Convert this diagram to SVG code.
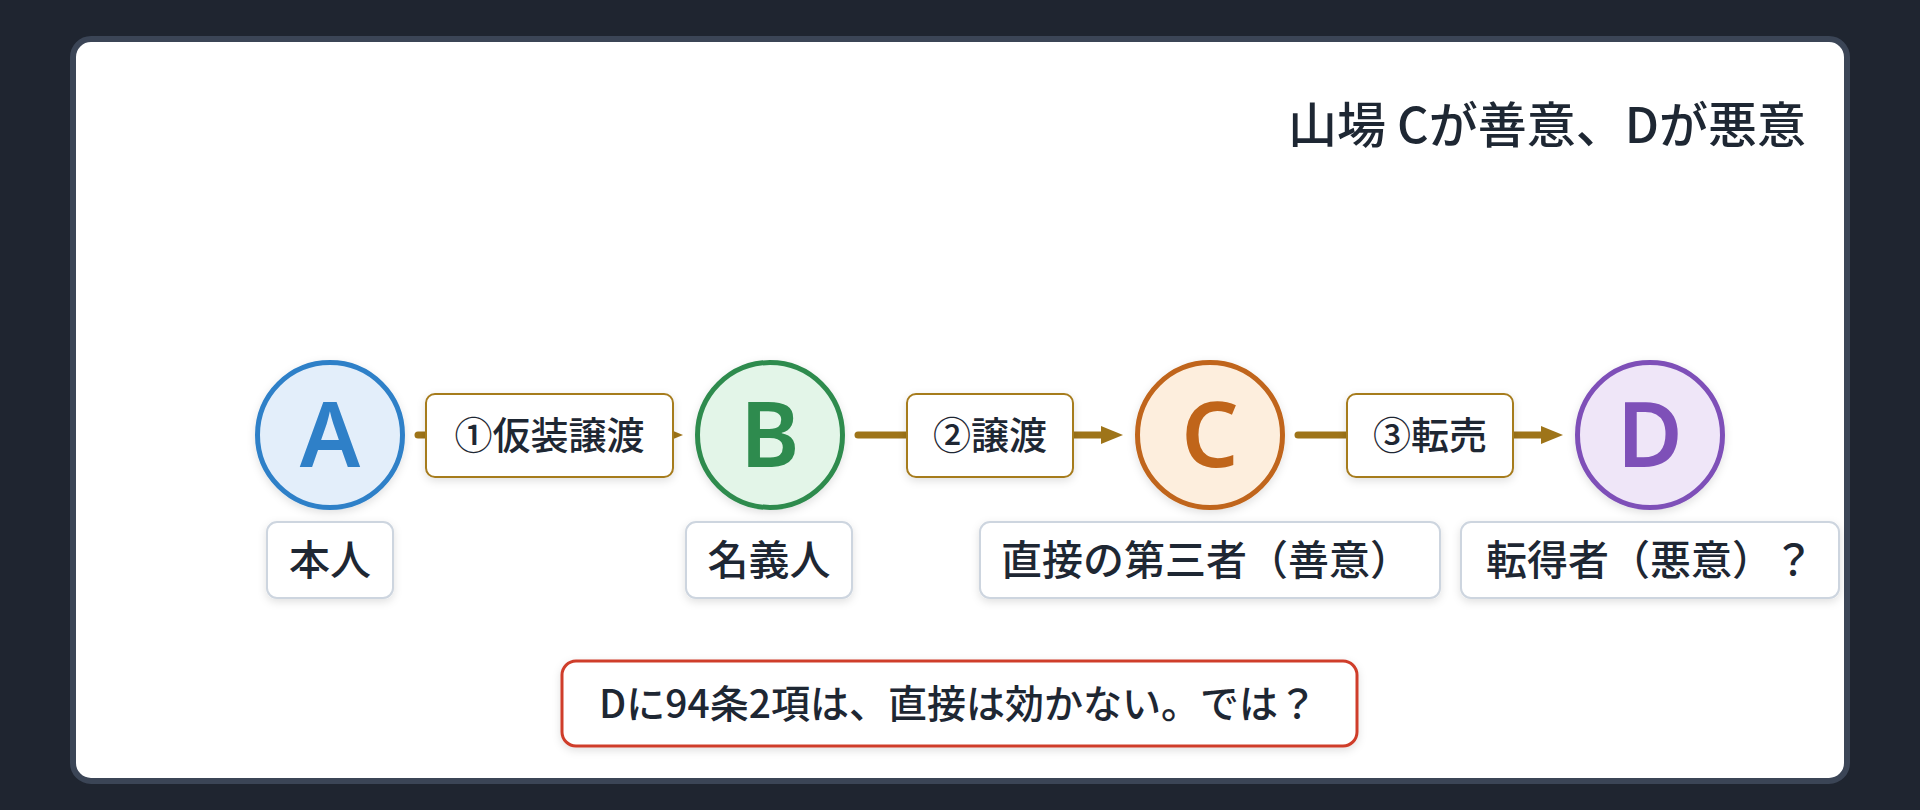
<svg xmlns="http://www.w3.org/2000/svg" width="1920" height="810" viewBox="0 0 1920 810">
<style>
.jp{font-family:"Noto Sans CJK JP","Noto Sans",sans-serif;fill:#1e2733}
.title{font-size:49px;font-weight:500}
.elab{font-size:38px;font-weight:500}
.sub{font-size:41px;font-weight:500}
.note{font-size:39px;font-weight:500}
.letter{font-family:"Noto Sans","Open Sans",sans-serif;font-size:90px;font-weight:600;text-anchor:middle}
.conn{stroke:#9e7419;stroke-width:7;stroke-linecap:round;fill:none}
.ebox{fill:#ffffff;stroke:#a67b1f;stroke-width:2}
.sbox{fill:#ffffff;stroke:#cdd5df;stroke-width:2}
</style>
<defs>
<marker id="arr" markerUnits="userSpaceOnUse" markerWidth="22" markerHeight="20" viewBox="0 0 22 20" refX="2" refY="10" orient="auto">
<path d="M0,1 L22,10 L0,19 z" fill="#9e7419"/>
</marker>
<filter id="sh" x="-20%" y="-20%" width="140%" height="150%">
<feDropShadow dx="0" dy="3" stdDeviation="4" flood-color="#000" flood-opacity="0.12"/>
</filter>
</defs>
<rect x="0" y="0" width="1920" height="810" fill="#1f2530"/>
<rect x="73" y="39" width="1774" height="742" rx="18" fill="#ffffff" stroke="#3b4556" stroke-width="6"/>
<text class="jp title" x="1806" y="143" text-anchor="end">山場 Cが善意、Dが悪意</text>
<g id="connectors">
<line class="conn" x1="418" y1="435" x2="663" y2="435" marker-end="url(#arr)"/>
<line class="conn" x1="858" y1="435" x2="1103" y2="435" marker-end="url(#arr)"/>
<line class="conn" x1="1298" y1="435" x2="1543" y2="435" marker-end="url(#arr)"/>
<g id="edge-label-1"><rect class="ebox" x="426" y="394" width="247" height="83" rx="9" filter="url(#sh)"/><text class="jp elab" x="549.5" y="449" text-anchor="middle">①仮装譲渡</text></g>
<g id="edge-label-2"><rect class="ebox" x="907" y="394" width="166" height="83" rx="9" filter="url(#sh)"/><text class="jp elab" x="990" y="449" text-anchor="middle">②譲渡</text></g>
<g id="edge-label-3"><rect class="ebox" x="1347" y="394" width="166" height="83" rx="9" filter="url(#sh)"/><text class="jp elab" x="1430" y="449" text-anchor="middle">③転売</text></g>
</g>
<g id="node-A">
<circle cx="330" cy="435" r="72.5" fill="#e3eefa" stroke="#2f80c8" stroke-width="5" filter="url(#sh)"/>
<text class="letter" x="330" y="467" fill="#2f80c8">A</text>
<rect class="sbox" x="267" y="522" width="126" height="76" rx="10" filter="url(#sh)"/>
<text class="jp sub" x="330" y="575" text-anchor="middle">本人</text>
</g>
<g id="node-B">
<circle cx="770" cy="435" r="72.5" fill="#e3f5e8" stroke="#2e8b4e" stroke-width="5" filter="url(#sh)"/>
<text class="letter" x="770" y="467" fill="#2e8b4e">B</text>
<rect class="sbox" x="686" y="522" width="166" height="76" rx="10" filter="url(#sh)"/>
<text class="jp sub" x="769" y="575" text-anchor="middle">名義人</text>
</g>
<g id="node-C">
<circle cx="1210" cy="435" r="72.5" fill="#fdeedd" stroke="#c0651a" stroke-width="5" filter="url(#sh)"/>
<text class="letter" x="1210" y="467" fill="#c0651a">C</text>
<rect class="sbox" x="980" y="522" width="460" height="76" rx="10" filter="url(#sh)"/>
<text class="jp sub" x="1206" y="575" text-anchor="middle">直接の第三者（善意）</text>
</g>
<g id="node-D">
<circle cx="1650" cy="435" r="72.5" fill="#efe6f8" stroke="#7e50b8" stroke-width="5" filter="url(#sh)"/>
<text class="letter" x="1650" y="467" fill="#7e50b8">D</text>
<rect class="sbox" x="1461" y="522" width="378" height="76" rx="10" filter="url(#sh)"/>
<text class="jp sub" x="1650" y="575" text-anchor="middle">転得者（悪意）？</text>
</g>
<g id="note">
<rect x="562" y="661" width="795" height="85" rx="14" fill="#ffffff" stroke="#cf3e2b" stroke-width="3" filter="url(#sh)"/>
<text class="jp note" x="958" y="718" text-anchor="middle">Dに94条2項は、直接は効かない。では？</text>
</g>
</svg>
